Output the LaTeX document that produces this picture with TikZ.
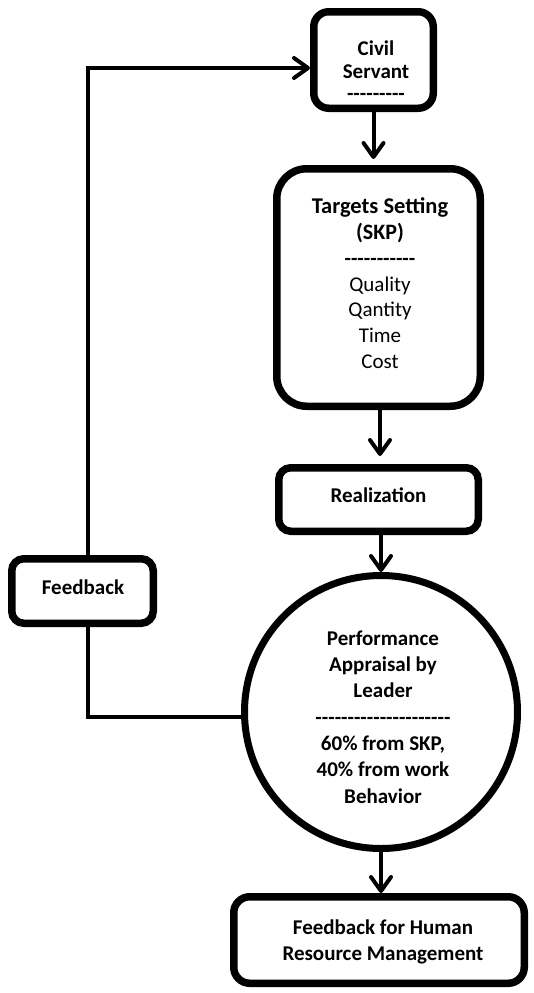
\documentclass[tikz,border=0pt]{standalone}
\usepackage{fontspec}
\setmainfont{Carlito}
\usetikzlibrary{arrows.meta}
\begin{document}
\begin{tikzpicture}[x=1pt,y=-1pt,
  box/.style={draw, line width=7.5pt, rounded corners=#1, inner sep=0pt, fill=white},
  box/.default=14pt,
  txt/.style={inner sep=0pt, anchor=north, align=center, font=\fontsize{21}{#1}\selectfont\bfseries},
  txt/.default=26,
  conn/.style={line width=4pt},
  arr/.style={line width=4pt, -{Straight Barb[length=14pt,width=20pt,round]}}
]
\fill[white] (0,0) rectangle (533,993);
\useasboundingbox (0,0) rectangle (533,993);

% boxes
\node[box=15pt, minimum width=119.5pt, minimum height=96.5pt] (civil) at (373.5,60) {};
\node[box=30pt, minimum width=203.5pt, minimum height=237.5pt] (target) at (378.5,287.5) {};
\node[box=12pt, minimum width=199.5pt, minimum height=63.5pt] (real) at (378.5,499.5) {};
\node[box=12pt, minimum width=141.5pt, minimum height=64.5pt] (fb) at (82.5,591) {};
\node[draw, circle, line width=7pt, minimum size=273pt, inner sep=0pt, fill=white] (circ) at (381,712) {};
\node[box=16pt, minimum width=290.5pt, minimum height=86.5pt] (final) at (379,940) {};

% texts
\node[txt=23] (civiltxt) at (376,38.9) {\strut Civil\\ \strut Servant\\[-1pt] \strut -{}-{}-{}-{}-{}-{}-{}-{}-};
\node[txt=25.7] (targettxt) at (380,195.8) {\fontsize{22.5}{25.7}\selectfont\strut Targets Setting\\ \fontsize{22}{25.7}\selectfont\strut (SKP)\\ \strut -{}-{}-{}-{}-{}-{}-{}-{}-{}-{}-\\
  \mdseries\strut Quality\\ \mdseries\strut Qantity\\ \mdseries\strut Time\\ \mdseries\strut Cost};
\node[txt] (realtxt) at (378.5,483.8) {\strut Realization};
\node[txt] (fbtxt) at (83,575.8) {\strut Feedback};
\node[txt=26.3] (circtxt) at (383,626.6) {\strut Performance\\ \strut Appraisal by\\ \strut Leader\\
  \strut -{}-{}-{}-{}-{}-{}-{}-{}-{}-{}-{}-{}-{}-{}-{}-{}-{}-{}-{}-{}-\\ \strut 60\% from SKP,\\ \strut 40\% from work\\ \strut Behavior};
\node[txt] (finaltxt) at (383,915.8) {\strut Feedback for Human\\ \strut Resource Management};

% connectors
\draw[arr, shorten >=6pt] (civil.south) -- (civil.south |- target.north);
\draw[arr, shorten >=8pt] (380,0 |- target.south) -- (380,0 |- real.north);
\draw[arr] (real.south -| circ.north) -- (circ.north);
\draw[arr] (circ.south) -- (circ.south |- final.north);

\coordinate (lx) at (88,68);
\draw[conn] (circ.182) -- (circ.182 -| lx) -- (lx |- fb.south);
\draw[arr, line join=miter] (lx |- fb.north) -- (lx) -- (lx -| civil.west);
\end{tikzpicture}
\end{document}
